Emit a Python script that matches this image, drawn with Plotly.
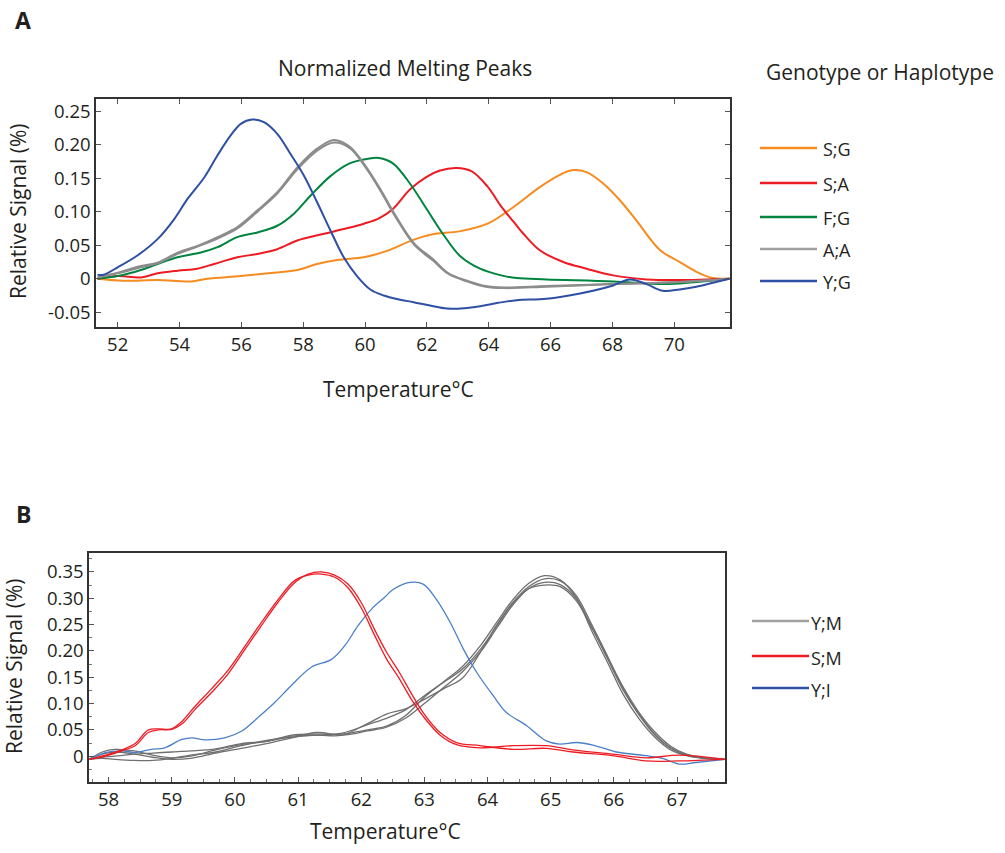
import plotly.graph_objects as go

W, H = 1005, 853
FONT = "Open Sans"
TXT = "#231f20"

# ---------------- Panel A: normalized melting peaks ----------------
sg_x = [51.35, 52.2, 53.3, 54.37, 54.9, 55.98, 57.05, 57.81, 58.45, 59.1, 59.96, 60.4, 60.8, 61.56, 62.15,
        63.08, 64.0, 64.8, 65.66, 66.3, 66.73, 67.16, 67.7, 68.24, 68.77, 69.53, 70.17, 70.82, 71.25, 71.78]
sg_y = [0.0, -0.003, -0.002, -0.004, 0.0, 0.004, 0.009, 0.013, 0.022, 0.028, 0.032, 0.037, 0.043, 0.058, 0.066,
        0.071, 0.083, 0.107, 0.137, 0.155, 0.162, 0.159, 0.142, 0.117, 0.087, 0.043, 0.025, 0.008, 0.001, 0.0]

sa_x = [51.35, 52.0, 52.75, 53.29, 53.94, 54.58, 55.12, 55.87, 56.52, 57.16, 57.81, 58.67, 59.31, 59.96, 60.45,
        60.9, 61.45, 61.99, 62.4, 62.96, 63.45, 63.95, 64.4, 64.8, 65.12, 65.66, 66.41, 67.16, 68.02, 69.1,
        70.17, 71.78]
sa_y = [0.0, 0.004, 0.002, 0.008, 0.012, 0.015, 0.022, 0.032, 0.037, 0.044, 0.057, 0.067, 0.074, 0.082, 0.090,
        0.104, 0.133, 0.152, 0.161, 0.165, 0.160, 0.138, 0.108, 0.085, 0.067, 0.042, 0.025, 0.015, 0.005, -0.001,
        -0.002, 0.0]

fg_x = [51.35, 52.0, 52.75, 53.29, 53.94, 54.69, 55.23, 55.87, 56.52, 57.16, 57.7, 58.24, 58.88, 59.5, 60.1,
        60.45, 60.9, 61.45, 61.99, 62.53, 63.07, 63.72, 64.4, 64.9, 65.87, 68.02, 69.63, 70.71, 71.78]
fg_y = [0.0, 0.004, 0.013, 0.022, 0.032, 0.039, 0.047, 0.062, 0.069, 0.079, 0.097, 0.124, 0.153, 0.172, 0.179,
        0.180, 0.172, 0.142, 0.104, 0.066, 0.034, 0.015, 0.005, 0.001, -0.001, -0.004, -0.008, -0.005, 0.0]

aa_x = [51.35, 52.0, 52.75, 53.29, 53.94, 54.58, 55.23, 55.87, 56.52, 57.16, 57.81, 58.45, 59.0, 59.5, 60.0,
        60.5, 61.0, 61.6, 62.2, 62.7, 63.3, 63.9, 64.5, 65.87, 68.02, 70.17, 71.78]
aa_y1 = [0.002, 0.009, 0.019, 0.024, 0.039, 0.049, 0.062, 0.077, 0.102, 0.129, 0.166, 0.194, 0.207, 0.197, 0.169,
         0.133, 0.093, 0.052, 0.029, 0.008, -0.003, -0.011, -0.013, -0.011, -0.008, -0.005, 0.0]
aa_y2 = [0.002, 0.008, 0.017, 0.023, 0.037, 0.048, 0.060, 0.075, 0.100, 0.127, 0.163, 0.191, 0.203, 0.195, 0.167,
         0.131, 0.091, 0.050, 0.027, 0.007, -0.004, -0.012, -0.014, -0.012, -0.008, -0.005, 0.0]

yg_x = [51.35, 51.55, 52.0, 52.65, 53.29, 53.83, 54.26, 54.8, 55.23, 55.66, 55.98, 56.35, 56.73, 57.16, 57.59,
        58.02, 58.45, 58.88, 59.31, 59.74, 60.17, 60.6, 61.1, 61.57, 62.1, 62.65, 63.2, 63.72, 64.3, 64.9,
        65.87, 66.95, 68.02, 68.56, 69.1, 69.63, 70.17, 70.71, 71.25, 71.78]
yg_y = [0.006, 0.006, 0.017, 0.035, 0.059, 0.089, 0.119, 0.151, 0.184, 0.214, 0.231, 0.2375, 0.2335, 0.216, 0.186,
        0.154, 0.114, 0.072, 0.032, 0.004, -0.016, -0.025, -0.031, -0.035, -0.040, -0.0445, -0.044, -0.041,
        -0.036, -0.032, -0.030, -0.022, -0.010, -0.001, -0.008, -0.018, -0.016, -0.012, -0.006, 0.0]

a_names = ["S;G", "S;A", "F;G", "A;A", "Y;G"]
a_colors = ["#f68b1f", "#ed1c24", "#00843f", "#8c8c8c", "#2e4fa3"]
a_legend_colors = ["#f68b1f", "#ed1c24", "#00843f", "#a0a0a0", "#2e4fa3"]

# ---------------- Panel B ----------------
sm_x = [57.69, 57.95, 58.21, 58.42, 58.63, 58.79, 59.0, 59.16, 59.37, 59.63, 59.89, 60.16, 60.42, 60.68, 60.95,
        61.16, 61.37, 61.58, 61.79, 62.0, 62.21, 62.4, 62.6, 62.8, 62.98, 63.25, 63.51, 63.88, 64.41, 64.93,
        65.35, 65.98, 66.51, 67.04, 67.76]
sm_y1 = [-0.006, 0.0, 0.010, 0.020, 0.045, 0.050, 0.051, 0.061, 0.089, 0.121, 0.156, 0.203, 0.248, 0.292, 0.330,
         0.346, 0.350, 0.344, 0.327, 0.292, 0.241, 0.198, 0.160, 0.118, 0.083, 0.045, 0.026, 0.020, 0.013, 0.015,
         0.008, 0.001, -0.009, -0.009, -0.006]
sm_y2 = [-0.006, 0.002, 0.012, 0.024, 0.050, 0.052, 0.052, 0.066, 0.095, 0.128, 0.163, 0.209, 0.254, 0.297, 0.334,
         0.344, 0.346, 0.340, 0.320, 0.282, 0.230, 0.185, 0.148, 0.107, 0.076, 0.040, 0.022, 0.016, 0.020, 0.020,
         0.012, 0.004, -0.003, 0.002, -0.006]

yi_x = [57.69, 57.95, 58.21, 58.42, 58.68, 58.89, 59.16, 59.32, 59.53, 59.84, 60.11, 60.37, 60.63, 60.89, 61.21,
        61.53, 61.74, 61.95, 62.16, 62.37, 62.51, 62.77, 62.98, 63.19, 63.41, 63.62, 63.83, 64.09, 64.3, 64.62,
        64.93, 65.14, 65.41, 65.67, 66.04, 66.51, 66.77, 67.04, 67.3, 67.76]
yi_y = [-0.006, 0.007, 0.010, 0.007, 0.013, 0.016, 0.032, 0.035, 0.031, 0.035, 0.048, 0.074, 0.102, 0.134, 0.169,
        0.184, 0.210, 0.248, 0.279, 0.302, 0.317, 0.330, 0.327, 0.298, 0.254, 0.203, 0.159, 0.115, 0.083, 0.058,
        0.029, 0.023, 0.026, 0.021, 0.008, 0.001, -0.004, -0.015, -0.012, -0.006]

ym_x = [57.69, 57.9, 58.1, 58.4, 58.7, 59.0, 59.3, 59.7, 60.1, 60.5, 60.9, 61.3, 61.7, 62.1, 62.4, 62.7, 63.0,
        63.3, 63.6, 63.9, 64.15, 64.4, 64.65, 64.9, 65.15, 65.4, 65.65, 65.9, 66.15, 66.4, 66.65, 66.9, 67.15,
        67.4, 67.76]
ym_y1 = [-0.006, 0.008, 0.013, 0.010, 0.002, -0.003, 0.000, 0.012, 0.022, 0.028, 0.040, 0.042, 0.042, 0.050, 0.057,
         0.077, 0.112, 0.141, 0.170, 0.212, 0.255, 0.297, 0.328, 0.343, 0.335, 0.302, 0.238, 0.178, 0.117, 0.071,
         0.036, 0.012, 0.001, -0.004, -0.006]
ym_y2 = [-0.006, -0.004, -0.006, -0.008, -0.008, -0.004, 0.002, 0.008, 0.020, 0.030, 0.036, 0.040, 0.040, 0.062,
         0.080, 0.090, 0.108, 0.128, 0.148, 0.200, 0.250, 0.292, 0.322, 0.337, 0.333, 0.306, 0.250, 0.190, 0.128,
         0.080, 0.042, 0.016, 0.003, -0.003, -0.006]
ym_y3 = [-0.006, 0.004, 0.008, 0.004, -0.002, -0.006, -0.004, 0.006, 0.015, 0.024, 0.035, 0.045, 0.040, 0.048,
         0.055, 0.072, 0.100, 0.130, 0.160, 0.200, 0.244, 0.287, 0.318, 0.330, 0.326, 0.300, 0.245, 0.185, 0.125,
         0.078, 0.040, 0.015, 0.002, -0.003, -0.006]
ym_y4 = [-0.006, -0.002, 0.000, 0.004, 0.006, 0.008, 0.010, 0.014, 0.024, 0.028, 0.038, 0.040, 0.044, 0.060,
         0.072, 0.088, 0.115, 0.140, 0.165, 0.205, 0.248, 0.290, 0.318, 0.325, 0.322, 0.296, 0.244, 0.188, 0.131,
         0.083, 0.046, 0.019, 0.004, -0.002, -0.006]

b_names = ["Y;M", "S;M", "Y;I"]
b_legend_colors = ["#a0a0a0", "#ed1c24", "#2e4fa3"]
B_GRAY, B_RED, B_BLUE = "#6f6f6f", "#ed1c24", "#4a80c8"

a_xticks = [52, 54, 56, 58, 60, 62, 64, 66, 68, 70]
a_yticks = [-0.05, 0, 0.05, 0.10, 0.15, 0.20, 0.25]
a_ytext = ["-0.05", "0", "0.05", "0.10", "0.15", "0.20", "0.25"]
b_xticks = [58, 59, 60, 61, 62, 63, 64, 65, 66, 67]
b_yticks = [0, 0.05, 0.10, 0.15, 0.20, 0.25, 0.30, 0.35]
b_ytext = ["0", "0.05", "0.10", "0.15", "0.20", "0.25", "0.30", "0.35"]


def px(x):
    return x / W


def py(y):
    return 1 - y / H


fig = go.Figure()


def add_line(x, y, color, width, axes):
    fig.add_trace(go.Scatter(x=x, y=y, mode="lines", showlegend=False, hoverinfo="skip",
                             line=dict(color=color, width=width, shape="spline", smoothing=1.0),
                             xaxis=axes[0], yaxis=axes[1]))


A = ("x", "y")
B = ("x2", "y2")
add_line(sg_x, sg_y, a_colors[0], 2, A)
add_line(sa_x, sa_y, a_colors[1], 2, A)
add_line(fg_x, fg_y, a_colors[2], 2, A)
add_line(aa_x, aa_y2, a_colors[3], 2, A)
add_line(aa_x, aa_y1, a_colors[3], 2, A)
add_line(yg_x, yg_y, a_colors[4], 2, A)

for ys in (ym_y1, ym_y2, ym_y3, ym_y4):
    add_line(ym_x, ys, B_GRAY, 1.3, B)
add_line(yi_x, yi_y, B_BLUE, 1.3, B)
add_line(sm_x, sm_y1, B_RED, 1.3, B)
add_line(sm_x, sm_y2, B_RED, 1.3, B)

axis_common = dict(showgrid=False, zeroline=False, showline=True, linecolor="#333333", linewidth=1.5,
                   ticks="inside", ticklen=5, tickcolor="#555555", tickwidth=1,
                   tickfont=dict(family=FONT, size=18.5, color=TXT))

fig.update_layout(
    width=W, height=H,
    margin=dict(l=0, r=0, t=0, b=0),
    paper_bgcolor="white", plot_bgcolor="white",
    xaxis=dict(domain=[px(96), px(730)], range=[51.3, 71.8], tickvals=a_xticks, anchor="y",
               mirror="ticks", **axis_common),
    yaxis=dict(domain=[py(327), py(99)], range=[-0.072, 0.268], tickvals=a_yticks, ticktext=a_ytext,
               anchor="x", mirror="ticks", **axis_common),
    xaxis2=dict(domain=[px(89), px(725)], range=[57.69, 67.76], tickvals=b_xticks, anchor="y2",
                mirror=True, minor=dict(ticks="inside", ticklen=3, dtick=0.25, tickcolor="#777777"),
                **axis_common),
    yaxis2=dict(domain=[py(782), py(553)], range=[-0.049, 0.386], tickvals=b_yticks, ticktext=b_ytext,
                anchor="x2", mirror=True, minor=dict(ticks="inside", ticklen=3, dtick=0.025, tickcolor="#777777"),
                **axis_common),
)

ann = []


def text(x, y, s, size=21, bold=False, angle=0, xanchor="center"):
    ann.append(dict(x=px(x), y=py(y), xref="paper", yref="paper", text=f"<b>{s}</b>" if bold else s,
                    showarrow=False, xanchor=xanchor, yanchor="middle", textangle=angle,
                    font=dict(family=FONT, size=size, color=TXT)))


text(23, 20, "A", size=23, bold=True)
text(23, 514, "B", size=23, bold=True)
text(405, 68, "Normalized Melting Peaks")
text(880, 72, "Genotype or Haplotype")
text(18, 211, "Relative Signal (%)", angle=-90)
text(14, 666, "Relative Signal (%)", angle=-90)
text(398, 389, "Temperature°C")
text(385, 831, "Temperature°C")

shapes = []
a_rows = [148, 183, 217, 249, 281]
for name, color, yy in zip(a_names, a_legend_colors, a_rows):
    shapes.append(dict(type="line", xref="paper", yref="paper", x0=px(760), x1=px(817), y0=py(yy), y1=py(yy),
                       line=dict(color=color, width=2.6)))
    text(821, yy + 1, name, size=18, xanchor="left")

b_rows = [621, 656, 688]
for name, color, yy in zip(b_names, b_legend_colors, b_rows):
    shapes.append(dict(type="line", xref="paper", yref="paper", x0=px(752), x1=px(809), y0=py(yy), y1=py(yy),
                       line=dict(color=color, width=2.6)))
    text(809, yy + 2, name, size=18, xanchor="left")

fig.update_layout(annotations=ann, shapes=shapes)
fig.write_html("out.html")
